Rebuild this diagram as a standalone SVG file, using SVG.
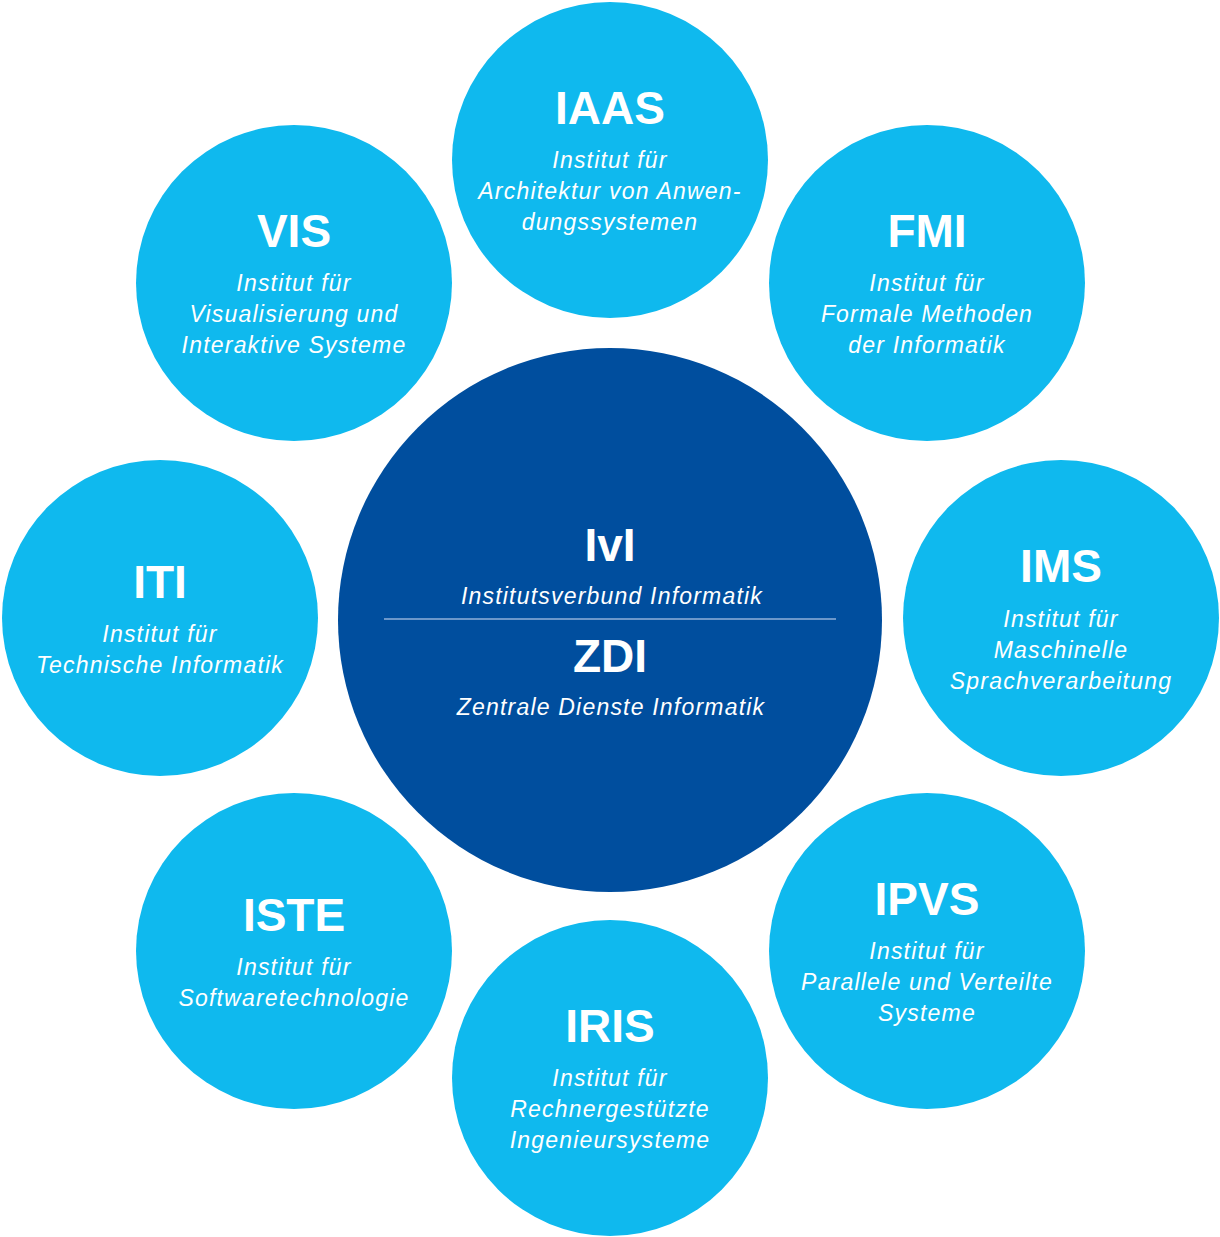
<svg xmlns="http://www.w3.org/2000/svg" width="1220" height="1237" viewBox="0 0 1220 1237">
<style>
.c{fill:#0fb9ee}
.t{font-family:"Liberation Sans",Arial,sans-serif;font-weight:bold;font-size:46px;fill:#fff;text-anchor:middle}
.s{font-family:"Liberation Sans",Arial,sans-serif;font-style:italic;font-size:23px;fill:#fff;text-anchor:middle;letter-spacing:1.2px}
</style>
<rect width="1220" height="1237" fill="#fff"/>
<g id="IAAS"><circle class="c" cx="610" cy="160" r="158"/><text class="t" x="610" y="124">IAAS</text><text class="s" x="610" y="168">Institut für</text><text class="s" x="610" y="199">Architektur von Anwen-</text><text class="s" x="610" y="230">dungssystemen</text></g>
<g id="VIS"><circle class="c" cx="294" cy="283" r="158"/><text class="t" x="294" y="247">VIS</text><text class="s" x="294" y="291">Institut für</text><text class="s" x="294" y="322">Visualisierung und</text><text class="s" x="294" y="353">Interaktive Systeme</text></g>
<g id="FMI"><circle class="c" cx="927" cy="283" r="158"/><text class="t" x="927" y="247">FMI</text><text class="s" x="927" y="291">Institut für</text><text class="s" x="927" y="322">Formale Methoden</text><text class="s" x="927" y="353">der Informatik</text></g>
<g id="ITI"><circle class="c" cx="160" cy="618" r="158"/><text class="t" x="160" y="598">ITI</text><text class="s" x="160" y="642">Institut für</text><text class="s" x="160" y="673">Technische Informatik</text></g>
<g id="IMS"><circle class="c" cx="1061" cy="618" r="158"/><text class="t" x="1061" y="582">IMS</text><text class="s" x="1061" y="627">Institut für</text><text class="s" x="1061" y="658">Maschinelle</text><text class="s" x="1061" y="689">Sprachverarbeitung</text></g>
<g id="ISTE"><circle class="c" cx="294" cy="951" r="158"/><text class="t" x="294" y="931">ISTE</text><text class="s" x="294" y="975">Institut für</text><text class="s" x="294" y="1006">Softwaretechnologie</text></g>
<g id="IPVS"><circle class="c" cx="927" cy="951" r="158"/><text class="t" x="927" y="915">IPVS</text><text class="s" x="927" y="959">Institut für</text><text class="s" x="927" y="990">Parallele und Verteilte</text><text class="s" x="927" y="1021">Systeme</text></g>
<g id="IRIS"><circle class="c" cx="610" cy="1078" r="158"/><text class="t" x="610" y="1042">IRIS</text><text class="s" x="610" y="1086">Institut für</text><text class="s" x="610" y="1117">Rechnergestützte</text><text class="s" x="610" y="1148">Ingenieursysteme</text></g>
<g id="IvI"><circle cx="610" cy="620" r="272" fill="#004e9e"/><text class="t" x="610" y="561">IvI</text><text class="s" x="612" y="604">Institutsverbund Informatik</text><line x1="384" y1="619" x2="836" y2="619" stroke="#8fb0d8" stroke-width="1.5"/><text class="t" x="610" y="672">ZDI</text><text class="s" x="611" y="715">Zentrale Dienste Informatik</text></g>
<g id="connectors"/>
</svg>
